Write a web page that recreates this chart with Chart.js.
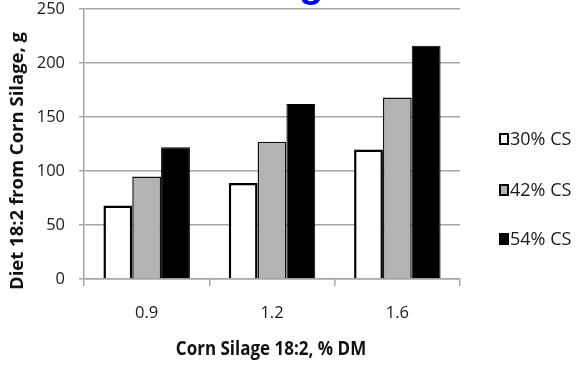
<!DOCTYPE html>
<html>
<head>
<meta charset="utf-8">
<script src="https://cdn.jsdelivr.net/npm/chart.js@4"></script>
<style>
  html, body { margin: 0; padding: 0; background: #ffffff; }
  #wrap { width: 576px; height: 366px; position: relative; }
</style>
</head>
<body>
<div id="wrap"><canvas id="c" width="576" height="366"></canvas></div>
<script>
// Corn silage 18:2 content (% DM) on the x axis
const categories = ['0.9', '1.2', '1.6'];
// Diet 18:2 supplied by corn silage (g) at each inclusion level
const cs30 = [68, 89, 120];
const cs42 = [95, 127, 168];
const cs54 = [122, 162, 216];
const seriesNames = ['30% CS', '42% CS', '54% CS'];
const yTicks = [0, 50, 100, 150, 200, 250];

const FONT = '"Open Sans", "Liberation Sans", sans-serif';

// legend drawn at the right of the plot, one square swatch per series
const sideLegend = {
  id: 'sideLegend',
  afterDraw(chart) {
    const ctx = chart.ctx;
    ctx.save();
    const rows = [139, 190, 239];
    chart.data.datasets.forEach((ds, i) => {
      const y = rows[i];
      ctx.fillStyle = ds.backgroundColor;
      ctx.fillRect(499, y - 6, 10, 12);
      ctx.strokeStyle = '#000';
      ctx.lineWidth = 2;
      ctx.strokeRect(500, y - 5, 8, 10);
      ctx.fillStyle = '#1a1a1a';
      ctx.font = '18px ' + FONT;
      ctx.textBaseline = 'middle';
      ctx.fillText(ds.label, 510, y + 1);
    });
    ctx.restore();
  }
};

// axis titles and the tail of the slide heading above the plot
const titles = {
  id: 'titles',
  afterDraw(chart) {
    const ctx = chart.ctx;
    ctx.save();
    ctx.fillStyle = '#0000ee';
    ctx.font = 'bold 40px "Liberation Sans", sans-serif';
    ctx.textBaseline = 'alphabetic';
    ctx.fillText('g', 299, -3);

    ctx.fillStyle = '#111';
    ctx.font = 'bold 17px ' + FONT;
    ctx.textAlign = 'center';
    ctx.textBaseline = 'middle';
    ctx.save();
    ctx.translate(271, 350);
    ctx.scale(1, 1.1);
    ctx.fillText('Corn Silage 18:2, % DM', 0, 0);
    ctx.restore();

    ctx.font = 'bold 18.5px ' + FONT;
    ctx.translate(18, 161);
    ctx.rotate(-Math.PI / 2);
    ctx.fillText('Diet 18:2 from Corn Silage, g', 0, 0);
    ctx.restore();
  }
};

new Chart(document.getElementById('c'), {
  type: 'bar',
  data: {
    labels: categories,
    datasets: [
      { label: seriesNames[0], data: cs30, backgroundColor: '#ffffff', borderColor: '#000000', borderWidth: 2.5 },
      { label: seriesNames[1], data: cs42, backgroundColor: '#b3b3b3', borderColor: '#111111', borderWidth: 1.5 },
      { label: seriesNames[2], data: cs54, backgroundColor: '#000000', borderColor: '#000000', borderWidth: 1 }
    ]
  },
  options: {
    responsive: false,
    animation: false,
    devicePixelRatio: 1,
    layout: { padding: { left: 0, right: 116, top: 9, bottom: 0 } },
    datasets: { bar: { barPercentage: 1, categoryPercentage: 0.69, borderSkipped: 'bottom' } },
    plugins: { legend: { display: false }, tooltip: { enabled: false } },
    scales: {
      x: {
        afterFit(s) { s.height = 87; s.paddingLeft = 0; s.paddingRight = 0; },
        grid: { offset: true, drawOnChartArea: false, color: '#a6a6a6', lineWidth: 1.5, tickLength: 7, tickColor: '#a6a6a6' },
        border: { color: '#a6a6a6', width: 1.5 },
        ticks: { color: '#1a1a1a', font: { family: FONT, size: 16.5 }, padding: 17 }
      },
      y: {
        min: 0, max: 250,
        afterFit(s) { s.width = 84; s.paddingTop = 0; s.paddingBottom = 0; },
        afterBuildTicks(s) { s.ticks = yTicks.map(v => ({ value: v })); },
        grid: { color: '#a6a6a6', lineWidth: 1.5, tickLength: 5, tickColor: '#a6a6a6' },
        border: { color: '#a6a6a6', width: 1.5 },
        ticks: { color: '#1a1a1a', font: { family: FONT, size: 16.5 }, padding: 14 }
      }
    }
  },
  plugins: [sideLegend, titles]
});
</script>
</body>
</html>
